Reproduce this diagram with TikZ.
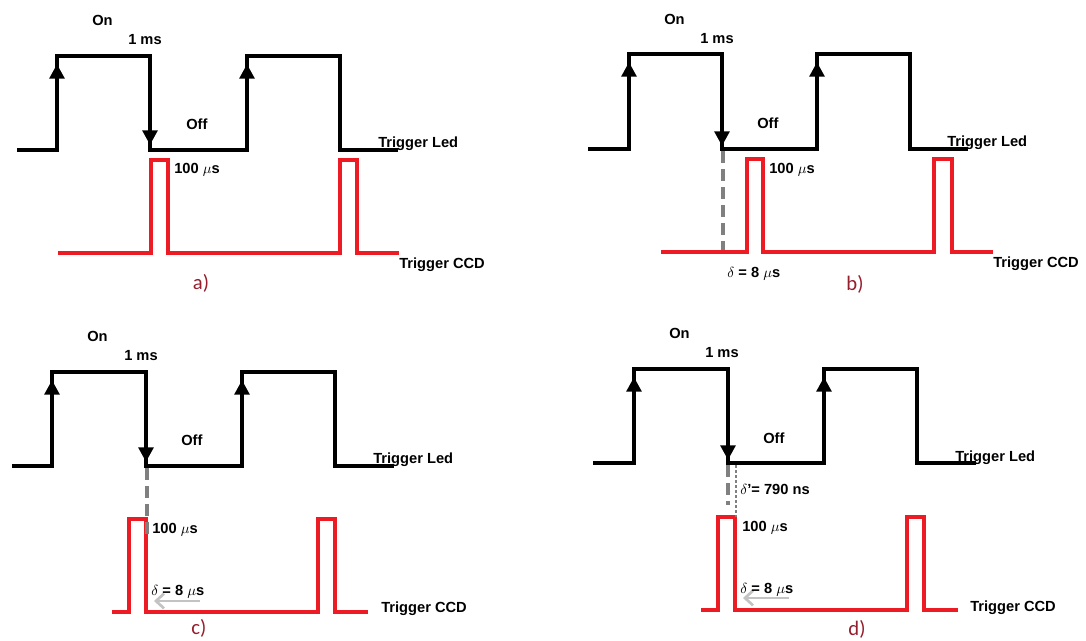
\documentclass[tikz,border=0pt]{standalone}
\usepackage{fontspec}
\setmainfont{Liberation Sans}
\newfontfamily\calfont{Carlito}
\usetikzlibrary{arrows.meta}
\definecolor{ccdred}{RGB}{237,28,36}
\definecolor{labred}{RGB}{150,30,45}
\definecolor{dgray}{RGB}{128,128,128}
\definecolor{lgray}{RGB}{195,195,195}
\begin{document}
\begin{tikzpicture}[x=0.75pt,y=-0.75pt,
  led/.style={line width=3.6pt, black, line join=miter},
  ccd/.style={line width=3.3pt, ccdred, line join=miter},
  edgearrow/.style={line width=3.6pt, black, -{Triangle[width=11pt,length=11pt]}},
  txt/.style={inner sep=0pt, anchor=base west, font=\fontsize{11}{13}\selectfont\bfseries},
  sublbl/.style={inner sep=0pt, text=labred, font=\calfont\fontsize{15.5}{18}\selectfont},
  delayline/.style={line width=3.2pt, dgray, dash pattern=on 9pt off 4.5pt},
  fineline/.style={line width=1.5pt, dgray, dash pattern=on 2.25pt off 1.5pt},
  backarrow/.style={line width=2pt, lgray, -{Straight Barb[length=6pt,width=11pt]}}]
\path[fill=white] (0,0) rectangle (1086,640);
\useasboundingbox (0,0) rectangle (1086,640);

% ===== panel a =====
\draw[led] (17,150) -- (57,150) -- (57,56) -- (150,56) -- (150,150) -- (247,150) -- (247,56) -- (340,56) -- (340,150) -- (398,150);
\draw[edgearrow] (57,100) -- (57,64);
\draw[edgearrow] (247,100) -- (247,64);
\draw[edgearrow] (150,110) -- (150,145);
\draw[ccd] (58,253) -- (151,253) -- (151,160) -- (168,160) -- (168,253) -- (340,253) -- (340,160) -- (357,160) -- (357,253) -- (399,253);
\node[txt] (aon) at (92,25) {On};
\node[txt] (ams) at (128,44) {1 ms};
\node[txt] (aoff) at (186,129) {Off};
\node[txt] (aled) at (378,147) {Trigger Led};
\node[txt] (aus) at (174,173) {100 $\mu$s};
\node[txt] (accd) at (399,268) {Trigger CCD};
\node[sublbl] (alab) at (201,283) {a)};

% ===== panel b =====
\draw[led] (588,149) -- (629,149) -- (629,54) -- (722,54) -- (722,149) -- (817,149) -- (817,54) -- (910,54) -- (910,149) -- (968,149);
\draw[edgearrow] (629,100) -- (629,62);
\draw[edgearrow] (817,100) -- (817,62);
\draw[edgearrow] (722,110) -- (722,146);
\draw[delayline] (723,151) -- (723,252);
\draw[ccd] (661,252) -- (747,252) -- (747,159) -- (763,159) -- (763,252) -- (934,252) -- (934,159) -- (952,159) -- (952,252) -- (993,252);
\node[txt] (bon) at (664,24) {On};
\node[txt] (bms) at (700,43) {1 ms};
\node[txt] (boff) at (757,128) {Off};
\node[txt] (bled) at (947,146) {Trigger Led};
\node[txt] (bus) at (769,173) {100 $\mu$s};
\node[txt] (bccd) at (993,267) {Trigger CCD};
\node[txt] (bdel) at (727,277) {$\delta$ = 8 $\mu$s};
\node[sublbl] (blab) at (855,284) {b)};

% ===== panel c =====
\draw[led] (12,466) -- (52,466) -- (52,372) -- (146,372) -- (146,466) -- (242,466) -- (242,372) -- (335,372) -- (335,466) -- (394,466);
\draw[edgearrow] (52,420) -- (52,380);
\draw[edgearrow] (242,420) -- (242,380);
\draw[edgearrow] (146,425) -- (146,462);
\draw[ccd] (112,612) -- (129,612) -- (129,519) -- (146,519) -- (146,612) -- (318,612) -- (318,519) -- (335,519) -- (335,612) -- (368,612);
\draw[delayline] (147,468) -- (147,534);
\coordinate (carS) at (200,601);
\coordinate (carE) at (154,601);
\draw[backarrow] (carS) -- (carE);
\node[txt] (con) at (87,341) {On};
\node[txt] (cms) at (124,360) {1 ms};
\node[txt] (coff) at (181,445) {Off};
\node[txt] (cled) at (373,463) {Trigger Led};
\node[txt] (cus) at (152,533) {100 $\mu$s};
\node[txt] (cdel) at (151,595) {$\delta$ = 8 $\mu$s};
\node[txt] (cccd) at (381,612) {Trigger CCD};
\node[sublbl] (clab) at (199,628) {c)};

% ===== panel d =====
\draw[led] (593,463) -- (634,463) -- (634,369) -- (728,369) -- (728,463) -- (824,463) -- (824,369) -- (917,369) -- (917,463) -- (976,463);
\draw[edgearrow] (634,420) -- (634,377);
\draw[edgearrow] (824,420) -- (824,377);
\draw[edgearrow] (728,425) -- (728,460);
\draw[ccd] (701,610) -- (718,610) -- (718,517) -- (735,517) -- (735,610) -- (907,610) -- (907,517) -- (924,517) -- (924,610) -- (958,610);
\draw[delayline] (728,465) -- (728,505);
\draw[fineline] (736,465) -- (736,517);
\coordinate (darS) at (789,598);
\coordinate (darE) at (743,598);
\draw[backarrow] (darS) -- (darE);
\node[txt] (don) at (669,338) {On};
\node[txt] (dms) at (705,357) {1 ms};
\node[txt] (doff) at (763,443) {Off};
\node[txt] (dled) at (955,461) {Trigger Led};
\node[txt] (dpr) at (740,494) {$\delta$'= 790 ns};
\node[txt] (dus) at (742,531) {100 $\mu$s};
\node[txt] (ddel) at (740,593) {$\delta$ = 8 $\mu$s};
\node[txt] (dccd) at (970,611) {Trigger CCD};
\node[sublbl] (dlab) at (857,629) {d)};
\end{tikzpicture}
\end{document}
